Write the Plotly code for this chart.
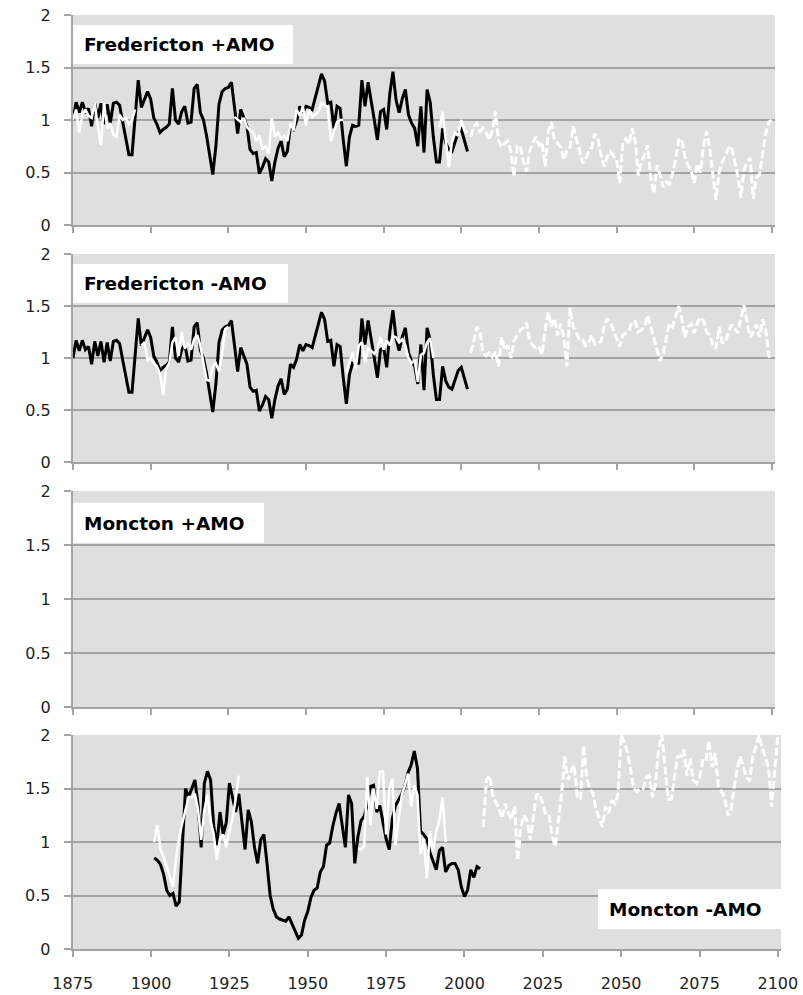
import plotly.graph_objects as go

# ---------------- data ----------------
# Fredericton observed index, annual, starting 1875
fred_obs_start = 1875
fred_obs = [
    1.0, 1.17, 1.07, 1.17, 1.08, 1.11, 0.94, 1.16, 1.02, 1.16,
    0.96, 1.15, 0.97, 1.16, 1.17, 1.14, 0.98, 0.83, 0.67, 0.67,
    1.0, 1.38, 1.12, 1.2, 1.27, 1.2, 1.02, 0.96, 0.88, 0.91,
    0.93, 0.96, 1.30, 1.0, 0.96, 1.08, 1.13, 0.97, 0.98, 1.30,
    1.34, 1.07, 1.0, 0.85, 0.66, 0.48, 0.75, 1.15, 1.27, 1.30,
    1.31, 1.36, 1.12, 0.87, 1.1, 1.01, 0.94, 0.72, 0.68, 0.69,
    0.49, 0.55, 0.63, 0.6, 0.42, 0.6, 0.73, 0.8, 0.65, 0.7,
    0.94, 0.91, 0.99, 1.13, 1.07, 1.13, 1.12, 1.1, 1.21, 1.34,
    1.44, 1.37, 1.16, 1.17, 0.92, 1.13, 1.11, 0.81, 0.56, 0.84,
    0.95, 0.94, 0.95, 1.38, 1.13, 1.36, 1.16, 1.0, 0.81, 1.08,
    1.1, 0.91, 1.25, 1.46, 1.19, 1.07, 1.2, 1.29, 1.05, 0.97,
    0.92, 0.75, 1.13, 0.69, 1.29, 1.17, 0.84, 0.6, 0.6, 0.92,
    0.78, 0.72, 0.7, 0.8, 0.88, 0.91, 0.8, 0.7,
]

# Fredericton +AMO modelled series (solid pieces) and projection (dashed)
fred_plus_a_start = 1875
fred_plus_a = [1.0, 1.1, 0.88, 1.05, 1.1, 1.04, 1.02, 1.16, 0.94, 0.76,
               1.16, 0.92, 0.97, 0.86, 0.84, 1.05, 1.0, 1.02, 0.96, 1.0, 1.1]
fred_plus_b_start = 1927
fred_plus_b = [1.03, 1.0, 0.98, 1.02, 0.93, 0.9, 0.88, 0.8, 0.85, 0.72,
               0.75, 0.68, 1.02, 0.84, 0.88, 0.82, 0.85, 0.8, 0.97, 0.9,
               1.1, 1.04, 1.13, 0.95, 1.1, 1.03, 1.06, 1.08, 1.16, 1.14,
               1.12, 0.8, 0.9, 0.98, 1.0, 1.0]
fred_plus_c_start = 1993
fred_plus_c = [0.93, 1.08, 0.81, 0.55, 0.8, 0.88, 0.85, 1.0, 0.9, 0.88]
fred_plus_proj_start = 2003
fred_plus_proj = [
    0.84, 0.94, 0.97, 0.89, 0.92, 0.88, 0.81, 0.9, 1.08, 0.8,
    0.74, 0.78, 0.8, 0.7, 0.46, 0.75, 0.75, 0.6, 0.51, 0.7,
    0.78, 0.84, 0.76, 0.79, 0.56, 0.88, 0.98, 0.81, 0.78, 0.74,
    0.62, 0.71, 0.74, 0.94, 0.82, 0.72, 0.59, 0.62, 0.7, 0.74,
    0.87, 0.82, 0.66, 0.56, 0.65, 0.7, 0.66, 0.62, 0.4, 0.78,
    0.82, 0.77, 0.92, 0.8, 0.47, 0.6, 0.67, 0.76, 0.45, 0.3,
    0.57, 0.48, 0.36, 0.41, 0.39, 0.49, 0.62, 0.81, 0.82, 0.65,
    0.57, 0.52, 0.4, 0.58, 0.5, 0.76, 0.89, 0.73, 0.48, 0.24,
    0.5, 0.6, 0.66, 0.73, 0.75, 0.6, 0.47, 0.26, 0.52, 0.6,
    0.64, 0.25, 0.45, 0.48, 0.67, 0.87, 0.98, 1.0,
]

# Fredericton -AMO
fred_minus_a_start = 1897
fred_minus_a = [1.12, 1.15, 0.98, 1.0, 0.95, 0.92, 0.85, 0.64, 0.9, 0.95,
                1.15, 1.2, 1.02, 1.25, 1.09, 1.15, 1.08, 1.18, 1.22, 1.12,
                0.95, 0.79, 0.78, 0.92, 0.95, 0.87, 1.04, 1.28, 1.3]
fred_minus_b_start = 1963
fred_minus_b = [0.85, 0.95, 1.06, 0.9, 1.12, 1.15, 0.96, 1.09, 1.07, 1.04,
                1.09, 1.2, 1.08, 1.17, 1.12, 1.21, 1.2, 1.15, 1.18, 1.12,
                1.0, 0.95, 0.98, 0.77, 1.03, 1.05, 1.15, 1.19, 1.0]
fred_minus_proj_start = 2003
fred_minus_proj = [
    1.05, 1.15, 1.3, 1.25, 1.05, 1.02, 1.05, 1.01, 1.06, 0.92,
    1.2, 1.08, 1.12, 1.0, 1.17, 1.22, 1.27, 1.29, 1.34, 1.17,
    1.12, 1.1, 1.11, 1.03, 1.27, 1.44, 1.3, 1.38, 1.22, 1.33,
    1.2, 0.92, 1.48, 1.31, 1.24, 1.18, 1.18, 1.12, 1.15, 1.22,
    1.13, 1.14, 1.16, 1.3, 1.38, 1.34, 1.27, 1.18, 1.11, 1.22,
    1.24, 1.27, 1.35, 1.35, 1.25, 1.27, 1.3, 1.41, 1.3, 1.18,
    1.06, 0.97, 1.05, 1.18, 1.33, 1.3, 1.4, 1.5, 1.38, 1.2,
    1.3, 1.33, 1.24, 1.34, 1.39, 1.36, 1.25, 1.22, 1.13, 1.09,
    1.3, 1.15, 1.15, 1.25, 1.32, 1.28, 1.24, 1.37, 1.51, 1.35,
    1.2, 1.25, 1.32, 1.2, 1.37, 1.27, 1.02, 0.98,
]

# Moncton observed index, annual, starting 1901
monc_obs_start = 1901
monc_obs = [
    0.85, 0.83, 0.79, 0.7, 0.55, 0.5, 0.52, 0.4, 0.44, 0.95,
    1.5, 1.42, 1.5, 1.58, 1.35, 0.95, 1.55, 1.66, 1.58, 1.15,
    0.97, 1.28, 1.07, 1.18, 1.55, 1.4, 1.28, 1.45, 1.2, 0.93,
    1.3, 1.19, 0.95, 0.8, 1.02, 1.07, 0.8, 0.5, 0.37, 0.3,
    0.28, 0.27, 0.26, 0.3, 0.23, 0.17, 0.1, 0.13, 0.27, 0.35,
    0.48, 0.55, 0.57, 0.72, 0.77, 0.97, 0.99, 1.15, 1.27, 1.36,
    1.13, 0.95, 1.44, 1.36, 0.8, 1.05, 1.2, 1.24, 1.35, 1.52,
    1.53, 1.28, 1.34, 1.2, 1.03, 0.93, 1.22, 1.34, 1.39, 1.45,
    1.52, 1.65, 1.72, 1.85, 1.69, 1.1, 1.07, 1.03, 0.9, 0.82,
    0.74, 0.92, 0.95, 0.72, 0.78, 0.8, 0.8, 0.74, 0.58, 0.49,
    0.55, 0.74, 0.67, 0.77, 0.75,
]

# Moncton -AMO
monc_minus_a_start = 1901
monc_minus_a = [1.0, 1.16, 0.93, 0.86, 0.77, 0.68, 0.58, 0.85, 1.05, 1.18,
                1.3, 1.42, 1.42, 1.45, 1.3, 1.02, 1.3, 1.44, 1.2, 1.07,
                0.83, 1.03, 1.07, 0.95, 1.1, 1.22, 1.4, 1.62]
monc_minus_b_start = 1966
monc_minus_b = [0.94, 0.93, 0.96, 1.61, 1.16, 1.5, 1.31, 1.66, 1.66, 1.07,
                1.5, 1.59, 0.97, 1.22, 1.44, 1.53, 1.64, 1.33, 1.53, 1.44,
                0.89, 1.03, 0.66, 1.1, 0.91, 1.1, 1.2, 1.42, 1.0]
monc_minus_proj_start = 2006
monc_minus_proj = [
    1.14, 1.58, 1.62, 1.44, 1.37, 1.32, 1.22, 1.36, 1.27, 1.21,
    1.33, 0.83, 1.14, 1.25, 1.2, 1.02, 1.24, 1.44, 1.45, 1.35,
    1.25, 1.24, 1.05, 0.96, 1.21, 1.45, 1.8, 1.58, 1.66, 1.72,
    1.42, 1.4, 1.9, 1.6, 1.5, 1.45, 1.3, 1.21, 1.14, 1.33,
    1.27, 1.39, 1.36, 1.45, 2.0, 1.93, 1.84, 1.68, 1.5, 1.47,
    1.5, 1.5, 1.6, 1.62, 1.42, 1.55, 1.88, 2.0, 1.67, 1.4,
    1.4, 1.6, 1.8, 1.8, 1.86, 1.62, 1.78, 1.58, 1.55, 1.6,
    1.76, 1.75, 1.95, 1.7, 1.83, 1.52, 1.47, 1.42, 1.25, 1.28,
    1.5, 1.68, 1.8, 1.7, 1.6, 1.57, 1.8, 1.89, 2.0, 1.88,
    1.8, 1.7, 1.33, 1.63, 2.0,
]

panel_titles = ["Fredericton +AMO", "Fredericton -AMO", "Moncton +AMO", "Moncton -AMO"]
x_ticks = [1875, 1900, 1925, 1950, 1975, 2000, 2025, 2050, 2075, 2100]
y_ticks = [0, 0.5, 1, 1.5, 2]
y_tick_text = ["0", "0.5", "1", "1.5", "2"]

# ---------------- layout helpers ----------------
W, H = 803, 995
TICK_FONT = "DejaVu Sans"
TITLE_FONT = "DejaVu Sans"
GRID = "#a3a3a3"
BG = "#dfdfdf"


def fx(px):
    return px / W


def fy(py):
    return 1 - py / H


def years(start, vals):
    return list(range(start, start + len(vals)))


# plot-area pixel boxes (left, right, top, bottom)
panels = [
    (73, 775, 15, 225),
    (73, 775, 254, 462),
    (73, 775, 491, 707),
    (72.7, 781, 735, 949),
]

fig = go.Figure()


def add_line(panel, start, vals, color, width, dash="solid"):
    idx = "" if panel == 1 else str(panel)
    fig.add_trace(go.Scatter(
        x=years(start, vals), y=vals, mode="lines",
        line=dict(color=color, width=width, dash=dash),
        xaxis="x" + idx, yaxis="y" + idx,
        showlegend=False, hoverinfo="skip",
    ))


DASH = "8px,3px"

# Panel 1: Fredericton +AMO
add_line(1, fred_obs_start, fred_obs, "black", 3)
add_line(1, fred_plus_a_start, fred_plus_a, "white", 2.5)
add_line(1, fred_plus_b_start, fred_plus_b, "white", 2.5)
add_line(1, fred_plus_c_start, fred_plus_c, "white", 2.5)
add_line(1, fred_plus_proj_start, fred_plus_proj, "white", 3, DASH)

# Panel 2: Fredericton -AMO
add_line(2, fred_obs_start, fred_obs, "black", 3)
add_line(2, fred_minus_a_start, fred_minus_a, "white", 2.5)
add_line(2, fred_minus_b_start, fred_minus_b, "white", 2.5)
add_line(2, fred_minus_proj_start, fred_minus_proj, "white", 3, DASH)

# Panel 3: Moncton +AMO (no series)
fig.add_trace(go.Scatter(x=[], y=[], xaxis="x3", yaxis="y3", showlegend=False))

# Panel 4: Moncton -AMO
add_line(4, monc_obs_start, monc_obs, "black", 3)
add_line(4, monc_minus_a_start, monc_minus_a, "white", 2.5)
add_line(4, monc_minus_b_start, monc_minus_b, "white", 2.5)
add_line(4, monc_minus_proj_start, monc_minus_proj, "white", 3, DASH)

layout = dict(
    width=W, height=H, autosize=False,
    margin=dict(l=0, r=0, t=0, b=0, autoexpand=False),
    paper_bgcolor="white", plot_bgcolor=BG,
    showlegend=False,
    font=dict(family=TICK_FONT, size=15, color="#222222"),
)

for k, (l, r, t, b) in enumerate(panels, start=1):
    idx = "" if k == 1 else str(k)
    layout["xaxis" + idx] = dict(
        domain=[fx(l), fx(r)], range=[1875, 2101], anchor="y" + idx,
        tickmode="array", tickvals=x_ticks, automargin=False,
        showticklabels=(k == 4), ticks="outside", ticklen=6, tickwidth=2,
        tickcolor=GRID, showline=True, linecolor=GRID, linewidth=2,
        showgrid=False, zeroline=False, ticklabelstandoff=13,
        tickfont=dict(family=TICK_FONT, size=16, color="#222222"),
    )
    layout["yaxis" + idx] = dict(
        domain=[fy(b), fy(t)], range=[0, 2], anchor="x" + idx,
        tickmode="array", tickvals=y_ticks, ticktext=y_tick_text,
        automargin=False,
        ticks="outside", ticklen=7, tickwidth=2, tickcolor=GRID,
        showline=True, linecolor=GRID, linewidth=2,
        showgrid=True, gridcolor=GRID, gridwidth=2, zeroline=False,
        ticklabelstandoff=10,
        tickfont=dict(family=TICK_FONT, size=16, color="#222222"),
    )

fig.update_layout(**layout)

# white title boxes with bold labels
title_boxes = [
    (73, 293, 25, 64),
    (73, 288, 264, 303),
    (73, 264, 503, 543),
    (598, 781, 889, 929),
]
for text, (x0, x1, y0, y1) in zip(panel_titles, title_boxes):
    fig.add_shape(type="rect", xref="paper", yref="paper",
                  x0=fx(x0), x1=fx(x1), y0=fy(y1), y1=fy(y0),
                  fillcolor="white", line=dict(width=0), layer="above")
    fig.add_annotation(text="<b>" + text + "</b>", xref="paper", yref="paper",
                       x=fx(x0 + 9), y=fy((y0 + y1) / 2), xanchor="left",
                       yanchor="middle", showarrow=False,
                       font=dict(family=TITLE_FONT, size=18.5, color="black"))

fig.write_html("out.html")
